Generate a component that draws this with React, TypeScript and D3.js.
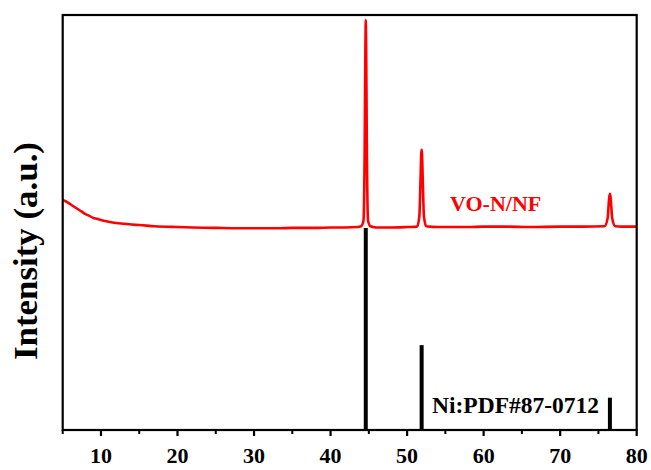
import React from "react";
import * as d3 from "d3";

// VO-N/NF measured pattern: 2θ (deg) and intensity (a.u.)
const scanTheta = [
  5, 5.5, 6, 6.5, 7, 7.5, 8, 8.5, 9, 9.5, 10, 11, 12, 13, 14, 15, 17, 20, 22, 25, 28, 30, 33, 35, 38, 40, 42, 43.5, 44.0, 44.3, 44.45, 44.55,
  44.6, 44.65, 44.75, 44.9, 45.2, 46, 48, 50, 51.3, 51.6, 51.75, 51.85, 51.9, 51.95, 52.05, 52.2, 52.5, 54, 56, 58, 60, 63, 66, 70, 73, 75.8,
  76.2, 76.4, 76.5, 76.6, 76.8, 77.2, 78, 80,
];
const scanIntensity = [
  55.4, 55.0, 54.4, 53.8, 53.2, 52.6, 52.0, 51.6, 51.1, 50.9, 50.6, 50.2, 49.9, 49.7, 49.5, 49.4, 49.1, 48.9, 48.8, 48.7, 48.6, 48.6, 48.6, 48.7, 48.7, 48.8, 48.8, 48.9, 49.1, 50.4, 66, 92,
  98.8, 92, 66, 50.4, 49.1, 48.8, 48.8, 48.9, 49.0, 51.5, 60, 66.5, 67.5, 66.5, 60, 51.5, 49.1, 48.9, 48.9, 48.9, 49.0, 49.0, 48.9, 49.0, 49.0, 49.1,
  51.0, 55.8, 56.9, 55.8, 51.0, 49.1, 49.0, 49.0,
];

// Reference pattern Ni:PDF#87-0712
const refTheta = [44.6, 51.9, 76.5];
const refIntensity = [100, 42, 16];

const xTicks = [10, 20, 30, 40, 50, 60, 70, 80];
const xMinorTicks = [5, 15, 25, 35, 45, 55, 65, 75];

const W = 651;
const H = 470;
const left = 62.7;
const right = 636.7;
const top = 15;
const bottom = 430;

export default function App() {
  const x = d3.scaleLinear().domain([5, 80]).range([left, right]);
  const y = d3.scaleLinear().domain([0, 100]).range([bottom, top]);
  const yRef = d3.scaleLinear().domain([0, 100]).range([bottom, 228]);

  const pts: [number, number][] = scanTheta.map((t, i) => [t, scanIntensity[i]]);
  const line = d3
    .line<[number, number]>()
    .x((d) => x(d[0]))
    .y((d) => y(d[1]))
    .curve(d3.curveMonotoneX);

  const font = "'Liberation Serif', 'Times New Roman', serif";

  return (
    <svg width={W} height={H} style={{ position: "absolute", left: 0, top: 0, background: "#fff" }}>
      <rect x={0} y={0} width={W} height={H} fill="#fff" />
      {/* reference sticks */}
      {refTheta.map((t, i) => (
        <line
          key={"s" + i}
          x1={x(t)}
          x2={x(t)}
          y1={bottom}
          y2={yRef(refIntensity[i])}
          stroke="#000"
          strokeWidth={4}
        />
      ))}
      {/* measured pattern */}
      <path d={line(pts) || ""} fill="none" stroke="#ff0000" strokeWidth={2.6} strokeLinejoin="round" />

      {/* frame */}
      <rect x={left} y={top} width={right - left} height={bottom - top} fill="none" stroke="#000" strokeWidth={2.2} />

      {/* ticks */}
      {xTicks.map((t) => (
        <g key={"t" + t}>
          <line x1={x(t)} x2={x(t)} y1={bottom} y2={bottom + 6} stroke="#000" strokeWidth={2.2} />
          <text
            x={x(t)}
            y={463}
            textAnchor="middle"
            fontFamily={font}
            fontWeight="bold"
            fontSize={22}
            fill="#000"
          >
            {t}
          </text>
        </g>
      ))}
      {xMinorTicks.map((t) => (
        <line key={"m" + t} x1={x(t)} x2={x(t)} y1={bottom} y2={bottom + 4} stroke="#000" strokeWidth={2} />
      ))}

      {/* labels */}
      <text x={450} y={211} fontFamily={font} fontWeight="bold" fontSize={22} fill="#ff0000">
        VO-N/NF
      </text>
      <text x={432} y={413} fontFamily={font} fontWeight="bold" fontSize={23.5} fill="#000">
        Ni:PDF#87-0712
      </text>
      <text
        transform="translate(37,251) rotate(-90)"
        textAnchor="middle"
        fontFamily={font}
        fontWeight="bold"
        fontSize={33}
        textLength={218}
        lengthAdjust="spacingAndGlyphs"
        fill="#000"
      >
        Intensity (a.u.)
      </text>
    </svg>
  );
}
